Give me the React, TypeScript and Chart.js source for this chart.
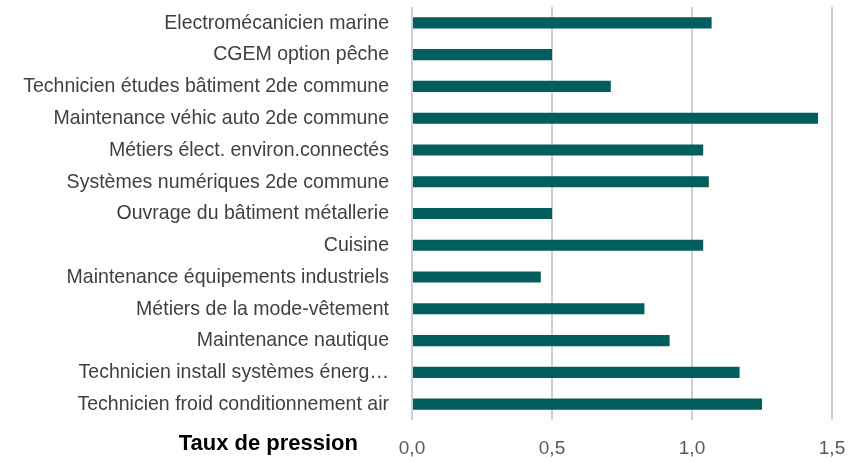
import React, { useEffect, useRef } from "react";
import { Chart, registerables } from "chart.js";

Chart.register(...registerables);

const categories = [
  "Electromécanicien marine",
  "CGEM option pêche",
  "Technicien études bâtiment 2de commune",
  "Maintenance véhic auto 2de commune",
  "Métiers élect. environ.connectés",
  "Systèmes numériques 2de commune",
  "Ouvrage du bâtiment métallerie",
  "Cuisine",
  "Maintenance équipements industriels",
  "Métiers de la mode-vêtement",
  "Maintenance nautique",
  "Technicien install systèmes énerg…",
  "Technicien froid conditionnement air",
];

const values = [1.07, 0.5, 0.71, 1.45, 1.04, 1.06, 0.5, 1.04, 0.46, 0.83, 0.92, 1.17, 1.25];

const xMin = 0;
const xMax = 1.5;
const xStep = 0.5;
const axisTitle = "Taux de pression";

export default function App() {
  const ref = useRef<HTMLCanvasElement>(null);

  useEffect(() => {
    document.body.style.margin = "0";
    const canvas = ref.current;
    if (!canvas) return;

    // Category labels drawn in a condensed style (narrow font is not installed)
    const labelPlugin = {
      id: "condensedLabels",
      afterDraw(chart: any) {
        const ctx = chart.ctx;
        const yScale = chart.scales.y;
        const area = chart.chartArea;
        const labels: string[] = chart.data.labels;
        const squeeze = 0.93;
        ctx.save();
        ctx.font = "21px 'Liberation Sans', Arial, sans-serif";
        ctx.fillStyle = "#404040";
        ctx.textAlign = "right";
        ctx.textBaseline = "middle";
        labels.forEach((lab, i) => {
          const y = yScale.getPixelForValue(i);
          const xRight = area.left - 23;
          ctx.save();
          ctx.translate(xRight, y);
          ctx.scale(squeeze, 1);
          ctx.fillText(lab, 0, 0);
          ctx.restore();
        });

        ctx.font = "bold 22px 'Liberation Sans', Arial, sans-serif";
        ctx.fillStyle = "#000000";
        ctx.fillText(axisTitle, area.left - 54, area.bottom + 24);
        ctx.restore();
      },
    };

    const chart = new Chart(canvas, {
      type: "bar",
      data: {
        labels: categories,
        datasets: [
          {
            data: values,
            backgroundColor: "#005E5C",
            barPercentage: 0.35,
            categoryPercentage: 1,
          },
        ],
      },
      options: {
        indexAxis: "y",
        animation: false,
        responsive: true,
        maintainAspectRatio: false,
        layout: { padding: { top: 7, right: 26, left: 0, bottom: 0 } },
        plugins: {
          legend: { display: false },
          tooltip: { enabled: false },
          title: { display: false },
        },
        scales: {
          x: {
            min: xMin,
            max: xMax,
            afterFit(scale: any) {
              scale.height = 42;
              scale.paddingLeft = 0;
              scale.paddingRight = 0;
            },
            grid: {
              color: "#D0D0D0",
              lineWidth: 2,
              drawTicks: false,
            },
            border: { display: false },
            ticks: {
              stepSize: xStep,
              padding: 17,
              color: "#595959",
              font: { family: "'Liberation Sans', Arial, sans-serif", size: 19 },
              callback: (v: any) => Number(v).toFixed(1).replace(".", ","),
            },
          },
          y: {
            afterFit(scale: any) {
              scale.width = 412;
              scale.paddingTop = 0;
              scale.paddingBottom = 0;
            },
            grid: { display: false, drawTicks: false },
            border: { display: false },
            ticks: { display: false, autoSkip: false },
          },
        },
      },
      plugins: [labelPlugin],
    });

    return () => chart.destroy();
  }, []);

  return (
    <div style={{ position: "relative", width: 858, height: 462 }}>
      <canvas ref={ref} />
    </div>
  );
}
